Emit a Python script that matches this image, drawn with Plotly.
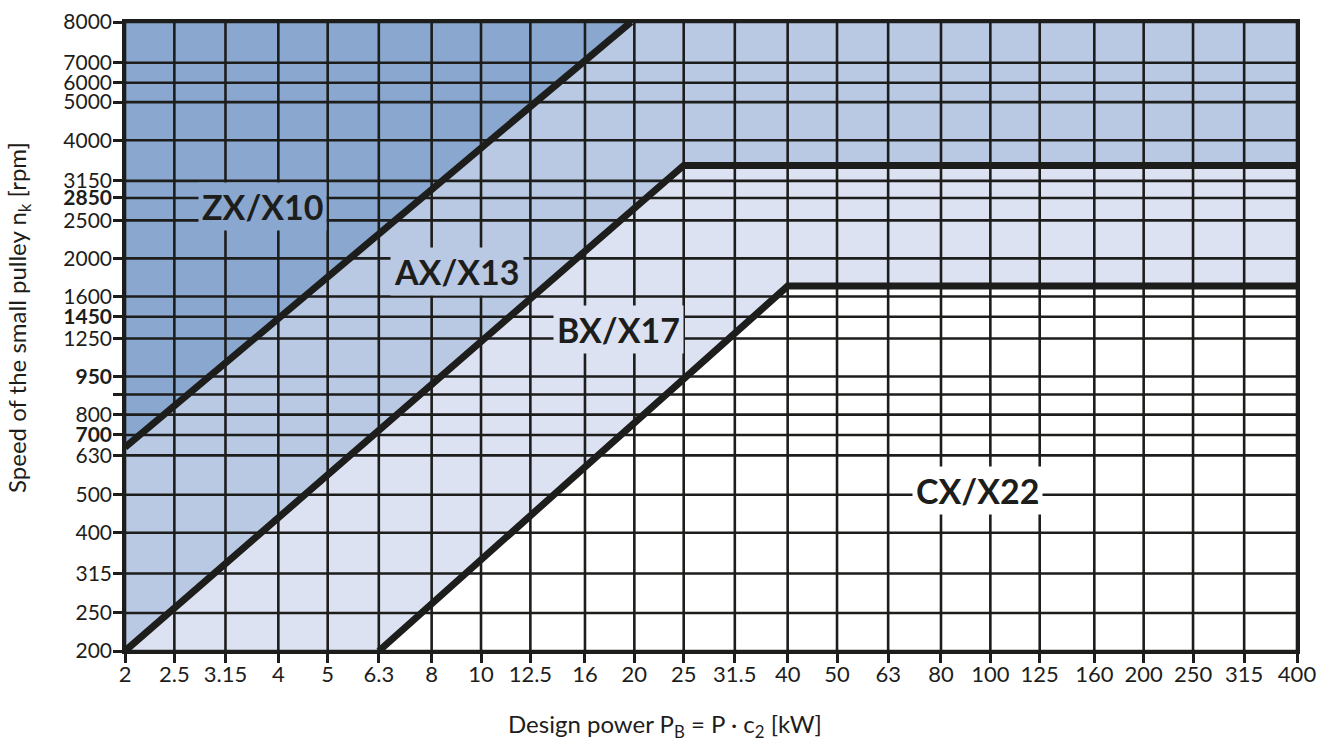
import math
import plotly.graph_objects as go

# ---- data ----
power_ticks = [2, 2.5, 3.15, 4, 5, 6.3, 8, 10, 12.5, 16, 20, 25, 31.5, 40, 50, 63,
               80, 100, 125, 160, 200, 250, 315, 400]
power_tick_labels = ["2", "2.5", "3.15", "4", "5", "6.3", "8", "10", "12.5", "16", "20",
                     "25", "31.5", "40", "50", "63", "80", "100", "125", "160", "200",
                     "250", "315", "400"]

# grid line values (as drawn) and the labels printed beside them
speed_grid = [200, 250, 315, 400, 500, 630, 710, 800, 900, 1000, 1250, 1420, 1600,
              2000, 2500, 2850, 3150, 4000, 5000, 5600, 6300, 8000]
speed_labels = ["200", "250", "315", "400", "500", "630", "<b>700</b>", "800", "",
                "<b>950</b>", "1250", "<b>1450</b>", "1600", "2000", "2500",
                "<b>2850</b>", "3150", "4000", "5000", "6000", "7000", "8000"]

zx_boundary_power = [2, 19.7]
zx_boundary_speed = [660, 8000]
ax_boundary_power = [2, 25, 400]
ax_boundary_speed = [200, 3450, 3450]
bx_boundary_power = [6.3, 40, 400]
bx_boundary_speed = [200, 1700, 1700]

section_names = ["ZX/X10", "AX/X13", "BX/X17", "CX/X22"]
section_label_power = [3.72, 8.97, 18.6, 94.2]
section_label_speed = [2704, 1847, 1315, 514]

P_MIN, P_MAX = power_ticks[0], power_ticks[-1]
N_MIN, N_MAX = speed_grid[0], speed_grid[-1]

C_DARK = "#89a7cf"
C_MID = "#b9c8e3"
C_LIGHT = "#dce2f1"
C_WHITE = "#ffffff"
INK = "#1d1d1b"
FONT = "Lato"

fig = go.Figure()

# region fills (layered)
fig.add_trace(go.Scatter(
    x=bx_boundary_power + [P_MAX, P_MIN, P_MIN, bx_boundary_power[0]],
    y=bx_boundary_speed + [N_MAX, N_MAX, N_MIN, bx_boundary_speed[0]],
    fill="toself", fillcolor=C_LIGHT, line=dict(width=0), mode="lines",
    hoverinfo="skip", showlegend=False))
fig.add_trace(go.Scatter(
    x=ax_boundary_power + [P_MAX, P_MIN, ax_boundary_power[0]],
    y=ax_boundary_speed + [N_MAX, N_MAX, ax_boundary_speed[0]],
    fill="toself", fillcolor=C_MID, line=dict(width=0), mode="lines",
    hoverinfo="skip", showlegend=False))
fig.add_trace(go.Scatter(
    x=zx_boundary_power + [P_MIN, zx_boundary_power[0]],
    y=zx_boundary_speed + [N_MAX, zx_boundary_speed[0]],
    fill="toself", fillcolor=C_DARK, line=dict(width=0), mode="lines",
    hoverinfo="skip", showlegend=False))

# grid lines drawn above the fills
gx, gy = [], []
for p in power_ticks:
    gx += [p, p, None]
    gy += [N_MIN, N_MAX, None]
for n in speed_grid:
    gx += [P_MIN, P_MAX, None]
    gy += [n, n, None]
fig.add_trace(go.Scatter(x=gx, y=gy, mode="lines", line=dict(color=INK, width=2.6),
                         hoverinfo="skip", showlegend=False))

# boundary lines
for bx, by in [(zx_boundary_power, zx_boundary_speed),
               (ax_boundary_power, ax_boundary_speed),
               (bx_boundary_power, bx_boundary_speed)]:
    fig.add_trace(go.Scatter(x=bx, y=by, mode="lines",
                             line=dict(color=INK, width=7),
                             hoverinfo="skip", showlegend=False))

label_bg = [C_DARK, C_MID, C_LIGHT, C_WHITE]
for name, p, n, bg in zip(section_names, section_label_power, section_label_speed, label_bg):
    fig.add_annotation(x=math.log10(p), y=math.log10(n), xref="x", yref="y",
                       text=f"<b>{name}</b>", showarrow=False,
                       font=dict(family=FONT, size=34, color=INK),
                       bgcolor=bg, borderpad=3)

fig.add_annotation(xref="paper", yref="paper", x=0.4608, y=-0.119,
                   xanchor="center", yanchor="middle",
                   text="Design power P<sub>B</sub> = P · c<sub>2</sub> [kW]",
                   showarrow=False, font=dict(family=FONT, size=24, color=INK))
fig.add_annotation(xref="paper", yref="paper", x=-0.0913, y=0.531, textangle=-90,
                   xanchor="center", yanchor="middle",
                   text="Speed of the small pulley n<sub>k</sub> [rpm]",
                   showarrow=False, font=dict(family=FONT, size=24, color=INK))

fig.update_xaxes(type="log", range=[math.log10(P_MIN), math.log10(P_MAX)],
                 tickvals=power_ticks, ticktext=power_tick_labels,
                 showgrid=False, zeroline=False, automargin=False,
                 showline=True, linecolor=INK, linewidth=2.6, mirror=True,
                 ticks="outside", ticklen=9, tickwidth=2.6, tickcolor=INK,
                 ticklabelstandoff=-7, ticklabeloverflow="allow",
                 tickfont=dict(family=FONT, size=22, color=INK))
fig.update_yaxes(type="log", range=[math.log10(N_MIN), math.log10(N_MAX)],
                 tickvals=speed_grid, ticktext=speed_labels,
                 showgrid=False, zeroline=False, automargin=False,
                 showline=True, linecolor=INK, linewidth=2.6, mirror=True,
                 ticks="outside", ticklen=9, tickwidth=2.6, tickcolor=INK,
                 ticklabelstandoff=-3, ticklabeloverflow="allow",
                 tickfont=dict(family=FONT, size=21, color=INK))

fig.update_layout(width=1331, height=742,
                  margin=dict(l=125, r=34, t=22, b=91, autoexpand=False),
                  paper_bgcolor="white", plot_bgcolor="white",
                  showlegend=False)

# remove the default 8px body margin so the figure fills the window exactly
fig.write_html("out.html", config={"displayModeBar": False},
               post_script="document.body.style.margin='0';")
